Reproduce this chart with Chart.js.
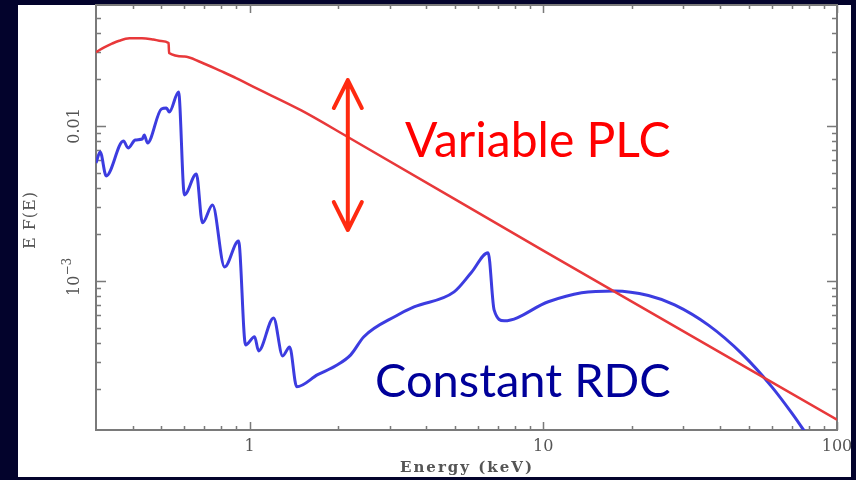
<!DOCTYPE html>
<html>
<head>
<meta charset="utf-8">
<title>E F(E) spectrum</title>
<script src="https://cdn.jsdelivr.net/npm/chart.js@4.4.1/dist/chart.umd.min.js"></script>
<style>
  html, body { margin: 0; padding: 0; background: #03032c; }
  #spec { display: block; }
</style>
</head>
<body>
<canvas id="spec" width="856" height="480"></canvas>
<script>
// power-law continuum (PLC), E in keV
const plcEnergy = [0.30, 0.32, 0.34, 0.36, 0.39, 0.43, 0.47, 0.50, 0.53, 0.532, 0.60, 0.68, 0.80, 0.90, 1.0, 1.5, 2.16, 10, 100];
const plcFlux = [0.0300, 0.0322, 0.0340, 0.0355, 0.0368, 0.0369, 0.0362, 0.0354, 0.0343, 0.0296, 0.0281, 0.0259, 0.0226, 0.0204, 0.0184, 0.0126, 0.00849, 0.00157, 0.000127];

// reflection-dominated component (RDC)
const rdcEnergy = [0.300, 0.310, 0.325, 0.372, 0.386, 0.408, 0.431, 0.438, 0.449, 0.501, 0.521, 0.533, 0.573, 0.600,
  0.659, 0.691, 0.748, 0.822, 0.917, 0.969, 1.040, 1.073, 1.207, 1.296, 1.369, 1.447, 1.706, 1.965, 2.21, 2.45,
  3.15, 3.63, 4.97, 5.68, 6.49, 6.80, 7.36, 10.4, 13.5, 17.5, 22.8, 28.0, 36.6, 47.4, 60.0, 70.2, 77.8];
const rdcFlux = [0.00577, 0.00680, 0.00476, 0.00800, 0.00721, 0.00812, 0.00824, 0.00875, 0.00777, 0.01288, 0.01306, 0.01231, 0.01656, 0.00359,
  0.00490, 0.00237, 0.00309, 0.00123, 0.00181, 0.000386, 0.000436, 0.000353, 0.000577, 0.000328, 0.000375, 0.000207, 0.000248, 0.000283, 0.000333, 0.000436,
  0.000594, 0.000679, 0.000849, 0.001127, 0.001517, 0.000650, 0.000552, 0.000733, 0.000838, 0.000862, 0.000805, 0.000700, 0.000516, 0.000339, 0.000207, 0.000140, 0.000106];

// axis ticks
const xMajor = [1, 10, 100];
const xMajorLabels = ['1', '10', '100'];
const xMinor = [0.4, 0.5, 0.6, 0.7, 0.8, 0.9, 2, 3, 4, 5, 6, 7, 8, 9, 20, 30, 40, 50, 60, 70, 80, 90];
const yMajor = [0.001, 0.01];
const yMinor = [0.0002, 0.0003, 0.0004, 0.0005, 0.0006, 0.0007, 0.0008, 0.0009,
  0.002, 0.003, 0.004, 0.005, 0.006, 0.007, 0.008, 0.009, 0.02, 0.03, 0.04, 0.05];

// the "variable" arrow sits on the PLC at this energy
const arrowEnergy = 2.16;
const arrowTop = 0.0198;
const arrowBottom = 0.00213;

const axisGrey = '#7a7a7a';
const textGrey = '#555555';

const framePlugin = {
  id: 'frame',
  beforeDraw(chart) {
    const ctx = chart.ctx;
    ctx.save();
    ctx.fillStyle = '#03032c';
    ctx.fillRect(0, 0, chart.width, chart.height);
    ctx.fillStyle = '#ffffff';
    ctx.fillRect(18, 5, 833, 472);
    ctx.restore();
  },
  beforeDatasetsDraw(chart) {
    const ctx = chart.ctx;
    const a = chart.chartArea;
    const xs = chart.scales.x, ys = chart.scales.y;
    ctx.save();
    ctx.strokeStyle = axisGrey;
    ctx.lineWidth = 1.5;
    const tick = (v, len) => {
      const px = Math.round(xs.getPixelForValue(v)) + 0.5;
      ctx.beginPath();
      ctx.moveTo(px, a.bottom); ctx.lineTo(px, a.bottom - len);
      ctx.moveTo(px, a.top); ctx.lineTo(px, a.top + len);
      ctx.stroke();
    };
    const ytick = (v, len) => {
      const py = Math.round(ys.getPixelForValue(v)) + 0.5;
      ctx.beginPath();
      ctx.moveTo(a.left, py); ctx.lineTo(a.left + len, py);
      ctx.moveTo(a.right, py); ctx.lineTo(a.right - len, py);
      ctx.stroke();
    };
    xMinor.forEach(v => tick(v, 4));
    xMajor.forEach(v => tick(v, 8));
    yMinor.forEach(v => ytick(v, 5));
    yMajor.forEach(v => ytick(v, 10));
    ctx.lineWidth = 2;
    ctx.strokeRect(a.left, a.top, a.right - a.left, a.bottom - a.top);
    ctx.restore();
  },
  afterDatasetsDraw(chart) {
    const ctx = chart.ctx;
    const a = chart.chartArea;
    const xs = chart.scales.x, ys = chart.scales.y;
    ctx.save();

    // tick labels
    ctx.fillStyle = textGrey;
    ctx.font = '16px "DejaVu Serif"';
    ctx.textAlign = 'center';
    ctx.textBaseline = 'middle';
    xMajor.forEach((v, i) => {
      ctx.fillText(xMajorLabels[i], xs.getPixelForValue(v), a.bottom + 17);
    });

    ctx.save();
    ctx.translate(75, ys.getPixelForValue(0.01));
    ctx.rotate(-Math.PI / 2);
    ctx.fillText('0.01', 0, 0);
    ctx.restore();

    ctx.save();
    ctx.translate(75, ys.getPixelForValue(0.001));
    ctx.rotate(-Math.PI / 2);
    ctx.textAlign = 'left';
    const w10 = ctx.measureText('10').width;
    ctx.font = '12px "DejaVu Serif"';
    const wSup = ctx.measureText('\u22123').width;
    const x0 = -(w10 + wSup) / 2 + 4;
    ctx.font = '16px "DejaVu Serif"';
    ctx.fillText('10', x0, 0);
    ctx.font = '12px "DejaVu Serif"';
    ctx.fillText('\u22123', x0 + w10, -7);
    ctx.restore();

    // axis titles
    ctx.font = 'bold 15px "DejaVu Serif"';
    ctx.letterSpacing = '2px';
    ctx.fillText('Energy (keV)', 467, 468);
    ctx.save();
    ctx.translate(31, 220);
    ctx.rotate(-Math.PI / 2);
    ctx.font = '16px "DejaVu Serif"';
    ctx.letterSpacing = '1px';
    ctx.fillText('E F(E)', 0, 0);
    ctx.restore();
    ctx.letterSpacing = '0px';

    // double-headed arrow
    const ax = xs.getPixelForValue(arrowEnergy);
    const top = ys.getPixelForValue(arrowTop);
    const bot = ys.getPixelForValue(arrowBottom);
    ctx.strokeStyle = '#ff2a10';
    ctx.lineWidth = 4;
    ctx.lineCap = 'round';
    ctx.lineJoin = 'round';
    ctx.beginPath();
    ctx.moveTo(ax, top); ctx.lineTo(ax, bot);
    ctx.moveTo(ax - 14, top + 28); ctx.lineTo(ax, top); ctx.lineTo(ax + 14, top + 28);
    ctx.moveTo(ax - 14, bot - 28); ctx.lineTo(ax, bot); ctx.lineTo(ax + 14, bot - 28);
    ctx.stroke();

    // component names
    ctx.textAlign = 'left';
    ctx.textBaseline = 'alphabetic';
    ctx.font = '48px Lato';
    ctx.fillStyle = '#ff0000';
    ctx.fillText('Variable PLC', 405, 157);
    ctx.font = '47px Lato';
    ctx.fillStyle = '#00009a';
    ctx.fillText('Constant RDC', 375, 397);
    ctx.restore();
  }
};

const ctx = document.getElementById('spec').getContext('2d');
new Chart(ctx, {
  type: 'line',
  data: {
    datasets: [
      {
        label: 'PLC',
        data: plcEnergy.map((e, i) => ({ x: e, y: plcFlux[i] })),
        borderColor: '#e8383a',
        borderWidth: 2.5,
        pointRadius: 0,
        cubicInterpolationMode: 'monotone'
      },
      {
        label: 'RDC',
        data: rdcEnergy.map((e, i) => ({ x: e, y: rdcFlux[i] })),
        borderColor: '#3c3ce0',
        borderWidth: 3,
        pointRadius: 0,
        cubicInterpolationMode: 'monotone'
      }
    ]
  },
  options: {
    responsive: false,
    animation: false,
    devicePixelRatio: 1,
    layout: { padding: { left: 96, top: 5, right: 19, bottom: 50 } },
    plugins: { legend: { display: false }, tooltip: { enabled: false } },
    scales: {
      x: { type: 'logarithmic', min: 0.3, max: 100, display: false },
      y: { type: 'logarithmic', min: 1.09e-4, max: 0.0604, display: false }
    }
  },
  plugins: [framePlugin]
});
</script>
</body>
</html>
